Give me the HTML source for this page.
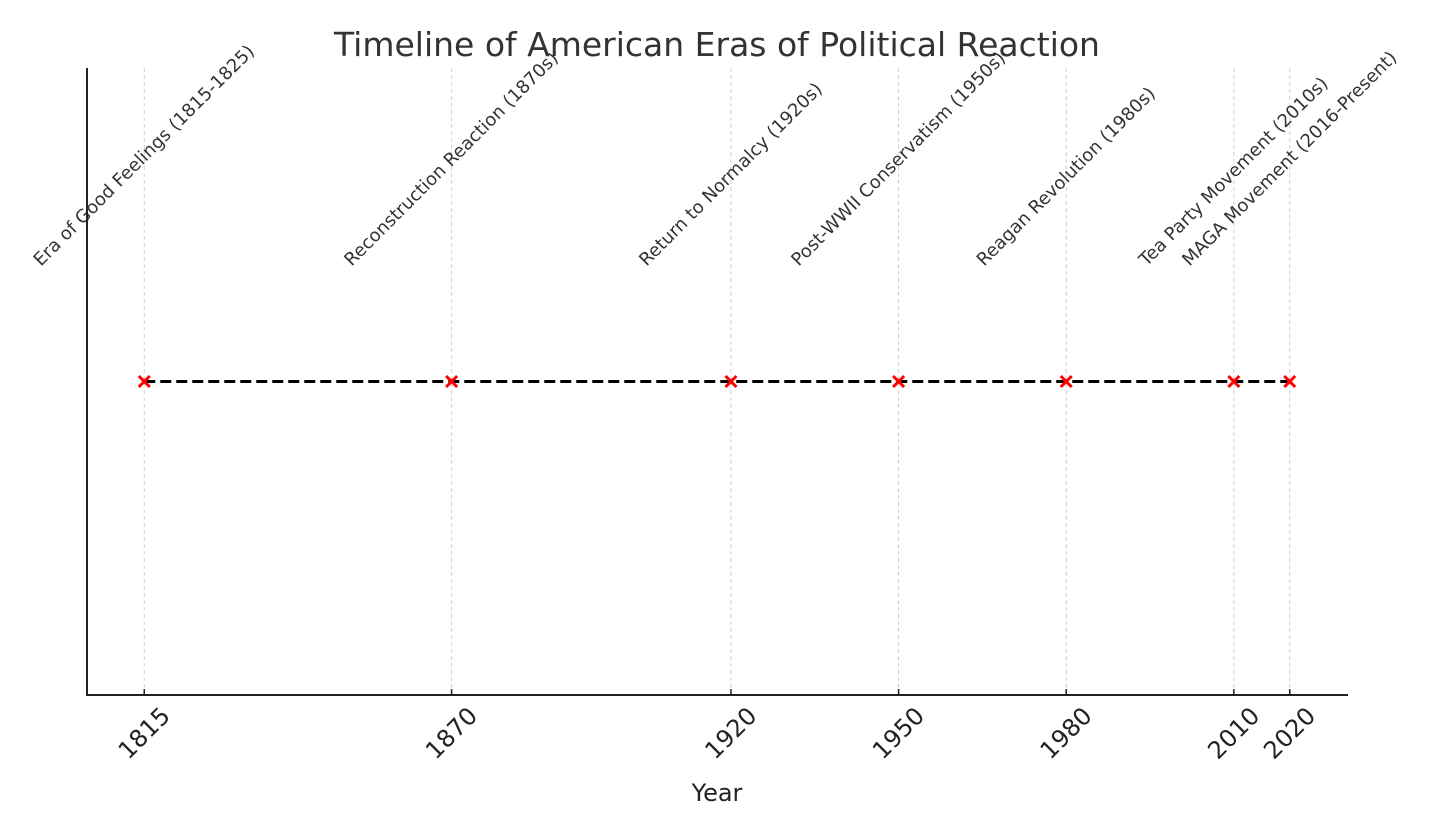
<!DOCTYPE html>
<html><head><meta charset="utf-8"><style>
html,body{margin:0;padding:0;background:#fff;}
svg{display:block;font-family:"DejaVu Sans","Liberation Sans",sans-serif;}
</style></head><body>
<svg id="chart" width="1430" height="823" viewBox="0 0 1430 823" xmlns="http://www.w3.org/2000/svg">
<text x="717" y="56" text-anchor="middle" font-size="33" fill="#333">Timeline of American Eras of Political Reaction</text>
<g id="grid"></g>
<g id="series"></g>
<g id="labels"></g>
<line x1="87" y1="68" x2="87" y2="695" stroke="#222" stroke-width="2"/>
<line x1="86" y1="695" x2="1348" y2="695" stroke="#222" stroke-width="2"/>
<g id="ticks"></g>
<text x="717" y="801" text-anchor="middle" font-size="24" fill="#222">Year</text>
</svg>
<script>
const years = [1815, 1870, 1920, 1950, 1980, 2010, 2020];
const eraNames = ["Era of Good Feelings (1815-1825)", "Reconstruction Reaction (1870s)", "Return to Normalcy (1920s)", "Post-WWII Conservatism (1950s)", "Reagan Revolution (1980s)", "Tea Party Movement (2010s)", "MAGA Movement (2016-Present)"];
const tickLabels = ["1815", "1870", "1920", "1950", "1980", "2010", "2020"];
const levels = [1, 1, 1, 1, 1, 1, 1];

const NS = "http://www.w3.org/2000/svg";
const x0 = 87, x1 = 1347, yTop = 68, yBot = 695;
const xmin = 1804.75, xmax = 2030.25;
const ymin = 0, ymax = 2;
const X = v => x0 + (v - xmin) / (xmax - xmin) * (x1 - x0);
const Y = v => yBot - (v - ymin) / (ymax - ymin) * (yBot - yTop);
function mk(tag, attrs, parent) {
  const e = document.createElementNS(NS, tag);
  for (const k in attrs) e.setAttribute(k, attrs[k]);
  parent.appendChild(e);
  return e;
}
const grid = document.getElementById('grid');
const series = document.getElementById('series');
const labels = document.getElementById('labels');
const ticks = document.getElementById('ticks');

years.forEach((yr, i) => {
  const g = mk('line', {x1: X(yr), x2: X(yr), y1: yTop, y2: yBot, stroke: '#cfcfcf', 'stroke-width': 1, 'stroke-dasharray': '4,3'}, grid);
  
  
});

const pts = years.map((yr, i) => X(yr) + ',' + Y(levels[i])).join(' ');
const line = mk('polyline', {points: pts, fill: 'none', stroke: '#000', 'stroke-width': 3, 'stroke-dasharray': '11,5'}, series);



years.forEach((yr, i) => {
  const cx = X(yr), cy = Y(levels[i]), s = 5.5;
  const m = mk('path', {d: `M${cx-s},${cy-s}L${cx+s},${cy+s}M${cx-s},${cy+s}L${cx+s},${cy-s}`, stroke: '#ff0000', 'stroke-width': 3, fill: 'none'}, series);
  
  
});

const c = Math.SQRT1_2;
eraNames.forEach((name, i) => {
  const fs = 18;
  const t = mk('text', {'font-size': fs, fill: '#333', 'text-anchor': 'middle', 'dominant-baseline': 'central'}, labels);
  t.textContent = name;
  
  
  const L = t.getComputedTextLength();
  const h = fs * 1.1;
  const w = (L + h) * c;
  const cx = X(years[i]), cy = 270 - w / 2;
  t.setAttribute('x', cx); t.setAttribute('y', cy);
  t.setAttribute('transform', `rotate(-45 ${cx} ${cy})`);
});

tickLabels.forEach((lab, i) => {
  const cx = X(years[i]);
  const tk = mk('line', {x1: cx, x2: cx, y1: yBot, y2: yBot - 6, stroke: '#222', 'stroke-width': 1.5}, ticks);
  
  
  const fs = 24;
  const t = mk('text', {'font-size': fs, fill: '#222', 'text-anchor': 'middle', 'dominant-baseline': 'central'}, ticks);
  t.textContent = lab;
  
  
  const L = t.getComputedTextLength();
  const w = (L + fs * 0.9) * c;
  const cy = 704 + w / 2;
  t.setAttribute('x', cx); t.setAttribute('y', cy);
  t.setAttribute('transform', `rotate(-45 ${cx} ${cy})`);
});
</script>
</body></html>
